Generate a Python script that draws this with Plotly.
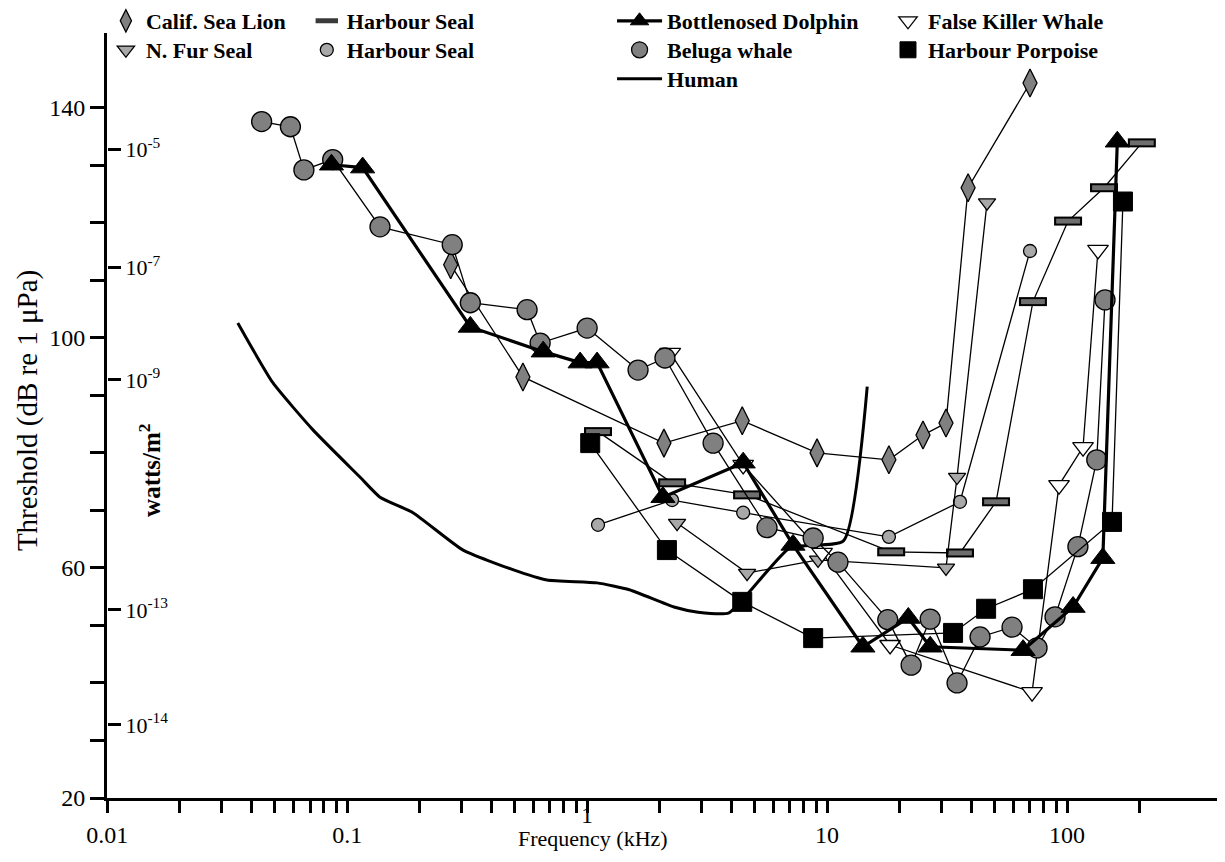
import plotly.graph_objects as go

SERIF = "Liberation Serif"

# ---------------- data: frequency (kHz), threshold (dB re 1 uPa) ----------------
human_khz = [0.035, 0.049, 0.072, 0.113, 0.137, 0.188, 0.304, 0.49, 0.68, 1.1, 1.5, 2.3, 2.9, 3.9, 7.0, 11.7, 14.7]
human_db = [102.6, 92.2, 84.0, 75.8, 72.3, 69.6, 63.1, 59.7, 57.9, 57.4, 56.2, 53.2, 52.3, 52.2, 63.5, 64.7, 91.5]

csl_khz = [0.27, 0.54, 2.09, 4.43, 9.08, 18.1, 25.1, 31.3, 38.7, 70.1]
csl_db = [112.7, 93.2, 81.7, 85.6, 80.0, 78.8, 83.1, 85.2, 126.1, 144.3]

fur_khz = [2.37, 4.64, 9.17, 31.3, 34.8, 46.4]
fur_db = [67.8, 59.1, 61.4, 60.0, 75.8, 123.5]

seal_rect_khz = [1.11, 2.26, 4.64, 18.5, 35.8, 50.6, 72.1, 101, 142.6, 205]
seal_rect_db = [83.7, 74.8, 72.7, 62.8, 62.6, 71.5, 106.3, 120.3, 126.1, 133.9]

seal_hex_khz = [1.11, 2.26, 4.47, 18.1, 35.8, 70.1]
seal_hex_db = [67.5, 71.8, 69.6, 65.4, 71.5, 115.1]

dolphin_khz = [0.086, 0.116, 0.326, 0.656, 0.935, 1.10, 2.07, 4.47, 7.21, 14.1, 21.8, 26.9, 65.6, 106, 141, 162]
dolphin_db = [130.1, 129.6, 101.9, 97.6, 95.7, 95.7, 72.3, 78.3, 64.0, 46.3, 51.3, 46.3, 45.7, 53.2, 61.7, 134.1]

beluga_khz = [0.044, 0.058, 0.066, 0.087, 0.137, 0.274, 0.326, 0.562, 0.637, 1.0, 1.63, 2.11, 3.35,
              5.62, 8.75, 11.1, 17.9, 22.4, 26.9, 34.8, 43.4, 59, 75, 89.1, 111, 133, 144]
beluga_db = [137.6, 136.7, 129.2, 131.0, 119.3, 116.2, 106.1, 104.9, 99.1, 101.7, 94.4, 96.5, 81.7,
             67.0, 65.2, 61.0, 51.0, 43.1, 51.1, 40.0, 48.0, 49.7, 46.1, 51.5, 63.7, 78.8, 106.6]

fkw_khz = [2.22, 4.47, 9.53, 18.3, 71.5, 92.6, 116.6, 134.6]
fkw_db = [97.4, 77.9, 62.6, 46.6, 38.4, 74.4, 81.0, 115.3]

porpoise_khz = [1.03, 2.15, 4.43, 8.75, 33.5, 46.0, 72.1, 154, 171]
porpoise_db = [81.7, 63.1, 54.1, 47.8, 48.7, 52.9, 56.3, 68.0, 123.7]

# axis ticks
x_major = [0.01, 0.1, 1, 10, 100]
x_major_labels = ["0.01", "0.1", "", "10", "100"]   # "1" is set a little higher, as in the original
y_ticks = [20, 30, 40, 50, 60, 70, 80, 90, 100, 110, 120, 130, 140]
y_labels = ["20", "", "", "", "60", "", "", "", "100", "", "", "", "140"]
watts_db = [132.7, 112.3, 92.7, 52.7, 32.7]
watts_labels = ["10<sup>-5</sup>", "10<sup>-7</sup>", "10<sup>-9</sup>", "10<sup>-13</sup>", "10<sup>-14</sup>"]

# ---------------------------------------------------------------------------
GRAY = "#808080"
LIGHT = "#a8a8a8"
fig = go.Figure()

thin = dict(color="black", width=1.3)

fig.add_trace(go.Scatter(x=human_khz, y=human_db, mode="lines", name="Human",
                         line=dict(color="black", width=3, shape="spline", smoothing=0.5),
                         legend="legend7"))

# Harbour seal (rectangles): dark outline bar + gray core
fig.add_trace(go.Scatter(x=seal_rect_khz, y=seal_rect_db, mode="lines+markers", showlegend=False,
                         line=thin, marker=dict(symbol="line-ew", size=20, color="black",
                                                line=dict(width=9, color="black"))))
fig.add_trace(go.Scatter(x=seal_rect_khz, y=seal_rect_db, mode="markers", showlegend=False,
                         marker=dict(symbol="line-ew", size=17, color="#6e6e6e",
                                     line=dict(width=5, color="#6e6e6e"))))

fig.add_trace(go.Scatter(x=seal_hex_khz, y=seal_hex_db, mode="lines+markers", showlegend=False,
                         line=thin, marker=dict(symbol="circle", size=13, color=LIGHT,
                                                line=dict(width=1.3, color="black"))))

fig.add_trace(go.Scatter(x=fur_khz, y=fur_db, mode="lines+markers", showlegend=False,
                         line=thin, marker=dict(symbol="triangle-down", size=15, color=LIGHT,
                                                line=dict(width=1.3, color="black"))))

fig.add_trace(go.Scatter(x=csl_khz, y=csl_db, mode="lines+markers", showlegend=False,
                         line=thin, marker=dict(symbol="diamond-tall", size=20, color=GRAY,
                                                line=dict(width=1.3, color="black"))))

fig.add_trace(go.Scatter(x=fkw_khz, y=fkw_db, mode="lines+markers", showlegend=False,
                         line=thin, marker=dict(symbol="triangle-down", size=18, color="white",
                                                line=dict(width=1.3, color="black"))))

fig.add_trace(go.Scatter(x=beluga_khz, y=beluga_db, mode="lines+markers", showlegend=False,
                         line=thin, marker=dict(symbol="circle", size=20, color=GRAY,
                                                line=dict(width=1.3, color="black"))))

fig.add_trace(go.Scatter(x=porpoise_khz, y=porpoise_db, mode="lines+markers", showlegend=False,
                         line=thin, marker=dict(symbol="square", size=19, color="black",
                                                line=dict(width=1, color="black"))))

fig.add_trace(go.Scatter(x=dolphin_khz, y=dolphin_db, mode="lines+markers", name="Bottlenosed Dolphin",
                         line=dict(color="black", width=3.2),
                         marker=dict(symbol="triangle-up", size=21, color="black",
                                     line=dict(width=1, color="black")),
                         legend="legend5"))


# legend-only entries (marker symbols only)
def legend_entry(name, legend, marker):
    fig.add_trace(go.Scatter(x=[None], y=[None], mode="markers", name=name, marker=marker, legend=legend))


legend_entry("Calif. Sea Lion", "legend",
             dict(symbol="diamond-tall", size=16, color=GRAY, line=dict(width=1.3, color="black")))
legend_entry("N. Fur Seal", "legend2",
             dict(symbol="triangle-down", size=15, color=LIGHT, line=dict(width=1.3, color="black")))
legend_entry("Harbour Seal", "legend3",
             dict(symbol="line-ew", size=18, color="#3a3a3a", line=dict(width=9, color="#3a3a3a")))
legend_entry("Harbour Seal ", "legend4",
             dict(symbol="circle", size=13, color=LIGHT, line=dict(width=1.3, color="black")))
legend_entry("Beluga whale", "legend6",
             dict(symbol="circle", size=16, color=GRAY, line=dict(width=1.3, color="black")))
legend_entry("False Killer Whale", "legend8",
             dict(symbol="triangle-down", size=16, color="white", line=dict(width=1.3, color="black")))
legend_entry("Harbour Porpoise", "legend9",
             dict(symbol="square", size=16, color="black", line=dict(width=1, color="black")))

legfont = dict(family=SERIF, size=22, color="black", weight="bold")


def leg(x, y, iw=30):
    return dict(x=x, y=y, xanchor="left", yanchor="middle", bgcolor="rgba(0,0,0,0)",
                borderwidth=0, font=legfont, itemwidth=iw)


ROW1, ROW2, ROW3 = 1.0157, 0.9778, 0.9399
COL1, COL2, COL3, COL4 = -0.001, 0.180, 0.455, 0.7036

x_tickvals = []
x_ticktext = []
for d, lab in zip(x_major, x_major_labels):
    ks = range(1, 10) if d < 100 else range(1, 3)
    for k in ks:
        x_tickvals.append(d * k)
        x_ticktext.append(lab if k == 1 else "")

tickfont = dict(family=SERIF, size=24, color="black")

fig.update_layout(
    width=1209, height=846,
    margin=dict(l=99, r=0, t=25, b=56, autoexpand=False),
    plot_bgcolor="white", paper_bgcolor="white",
    showlegend=True,
    legend=leg(COL1, ROW1),
    legend2=leg(COL1, ROW2),
    legend3=leg(COL2, ROW1),
    legend4=leg(COL2, ROW2),
    legend5=leg(COL3, ROW1, iw=45),
    legend6=leg(COL3, ROW2, iw=45),
    legend7=leg(COL3, ROW3, iw=45),
    legend8=leg(COL4, ROW1),
    legend9=leg(COL4, ROW2),
    xaxis=dict(type="log", range=[-2.001, 2.625], tickmode="array", tickvals=x_tickvals, ticktext=x_ticktext,
               ticks="outside", ticklen=12, tickwidth=2.5, tickcolor="black",
               showline=True, linewidth=3, linecolor="black", showgrid=False, zeroline=False,
               tickfont=tickfont, ticklabelstandoff=1),
    yaxis=dict(range=[20, 153], tickmode="array", tickvals=y_ticks, ticktext=y_labels,
               ticks="outside", ticklen=14, tickwidth=2.5, tickcolor="black",
               showline=True, linewidth=3, linecolor="black", showgrid=False, zeroline=False,
               tickfont=tickfont),
    yaxis2=dict(range=[20, 153], overlaying="y", anchor="free", position=0, side="right",
                tickmode="array", tickvals=watts_db, ticktext=watts_labels,
                ticks="outside", ticklen=13, tickwidth=2.5, tickcolor="black",
                showline=False, showgrid=False, zeroline=False,
                tickfont=dict(family=SERIF, size=22, color="black")),
    annotations=[
        dict(text="Threshold (dB re 1 μPa)", xref="paper", yref="paper", x=-0.0721, y=0.507,
             xanchor="center", yanchor="middle",
             textangle=-90, showarrow=False, font=dict(family=SERIF, size=29, color="black")),
        dict(text="watts/m<sup>2</sup>", xref="paper", yref="paper", x=0.0387, y=0.4288,
             xanchor="center", yanchor="middle",
             textangle=-90, showarrow=False, font=dict(family=SERIF, size=25, color="black", weight="bold")),
        dict(text="1", xref="x", yref="paper", x=0, y=-0.0222,
             xanchor="center", yanchor="middle", showarrow=False, font=tickfont),
        dict(text="Frequency (kHz)", xref="paper", yref="paper", x=0.4378, y=-0.0523,
             xanchor="center", yanchor="middle",
             showarrow=False, font=dict(family=SERIF, size=22, color="black")),
    ],
)

# anchor an invisible trace on the secondary axis so it is drawn
fig.add_trace(go.Scatter(x=[None], y=[None], yaxis="y2", showlegend=False, hoverinfo="skip"))

fig.write_html("out.html")
